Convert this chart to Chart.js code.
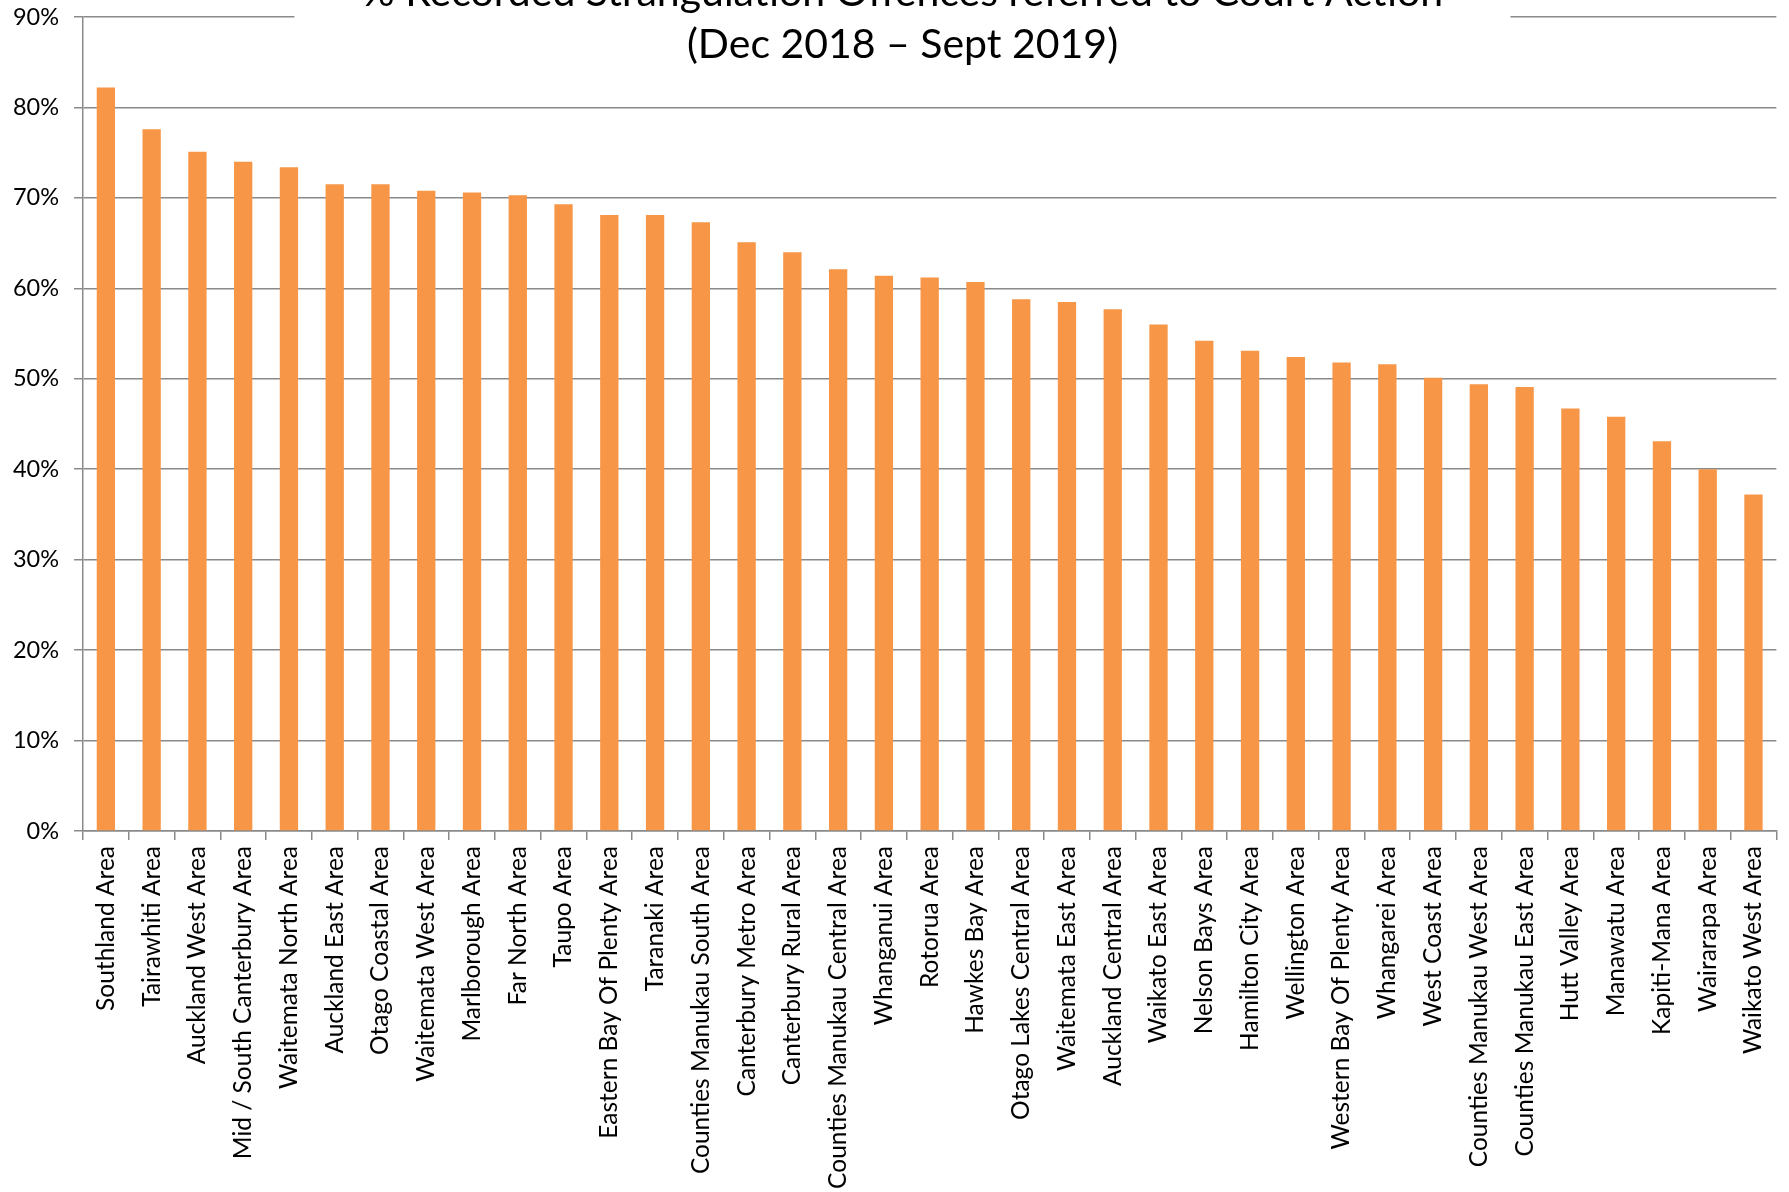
<!DOCTYPE html>
<html>
<head>
<meta charset="utf-8">
<title>% Recorded Strangulation Offences referred to Court Action</title>
<script src="https://cdn.jsdelivr.net/npm/chart.js@4/dist/chart.umd.min.js"></script>
<style>
    body { margin: 0; background: #fff; }
    #wrap { width: 1789px; height: 1192px; position: relative; }
</style>
</head>
<body>
<div id="wrap"><canvas id="diagram"></canvas></div>
<script>
// police areas, sorted by share referred to court
const areas = [
    "Southland Area", "Tairawhiti Area", "Auckland West Area", "Mid / South Canterbury Area",
    "Waitemata North Area", "Auckland East Area", "Otago Coastal Area", "Waitemata West Area",
    "Marlborough Area", "Far North Area", "Taupo Area", "Eastern Bay Of Plenty Area",
    "Taranaki Area", "Counties Manukau South Area", "Canterbury Metro Area", "Canterbury Rural Area",
    "Counties Manukau Central Area", "Whanganui Area", "Rotorua Area", "Hawkes Bay Area",
    "Otago Lakes Central Area", "Waitemata East Area", "Auckland Central Area", "Waikato East Area",
    "Nelson Bays Area", "Hamilton City Area", "Wellington Area", "Western Bay Of Plenty Area",
    "Whangarei Area", "West Coast Area", "Counties Manukau West Area", "Counties Manukau East Area",
    "Hutt Valley Area", "Manawatu Area", "Kapiti-Mana Area", "Wairarapa Area", "Waikato West Area"
];

// % of recorded strangulation offences referred to court action
const percentCourt = [
    82.2, 77.6, 75.1, 74.0, 73.4, 71.5, 71.5, 70.8,
    70.6, 70.3, 69.3, 68.1, 68.1, 67.3, 65.1, 64.0,
    62.1, 61.4, 61.2, 60.7, 58.8, 58.5, 57.7, 56.0,
    54.2, 53.1, 52.4, 51.8, 51.6, 50.1, 49.4, 49.1,
    46.7, 45.8, 43.1, 40.0, 37.2
];

const yTicks = [0, 10, 20, 30, 40, 50, 60, 70, 80, 90];

const titleLines = [
    "% Recorded Strangulation Offences referred to Court Action",
    "(Dec 2018 \u2013 Sept 2019)"
];

const axisGrey = "#8a8a8a";
const fontName = "Lato, 'Open Sans', sans-serif";

/**
 * title drawn over the top gridline, like the excel original
 */
const titlePlugin = {
    id: "boxTitle",
    afterDraw(chart) {
        const ctx = chart.ctx;
        const cx = chart.width / 2 + 8;
        ctx.save();
        ctx.fillStyle = "#fff";
        ctx.fillRect(cx - 608, 0, 1216, 70);
        ctx.fillStyle = "#000";
        ctx.font = "41px " + fontName;
        ctx.textAlign = "center";
        ctx.textBaseline = "alphabetic";
        ctx.fillText(titleLines[0], cx, 6);
        ctx.fillText(titleLines[1], cx, 58);
        ctx.restore();
    }
};

const canvas = document.getElementById("diagram");

new Chart(canvas, {
    type: "bar",
    data: {
        labels: areas,
        datasets: [{
            label: "% referred to court action",
            data: percentCourt,
            backgroundColor: "#F79646",
            borderWidth: 0,
            barPercentage: 0.4,
            categoryPercentage: 1.0
        }]
    },
    options: {
        responsive: true,
        maintainAspectRatio: false,
        animation: false,
        layout: { padding: { top: 17, right: 10, left: 0, bottom: 0 } },
        plugins: {
            legend: { display: false },
            tooltip: { enabled: false },
            title: { display: false }
        },
        scales: {
            x: {
                grid: {
                    display: true,
                    drawOnChartArea: false,
                    drawTicks: true,
                    tickLength: 9,
                    color: axisGrey,
                    lineWidth: 1.5
                },
                border: { color: axisGrey, width: 1.5 },
                ticks: {
                    autoSkip: false,
                    maxRotation: 90,
                    minRotation: 90,
                    padding: 6,
                    color: "#000",
                    font: { family: fontName, size: 24.5 }
                },
                afterFit(scale) { scale.height = 361; }
            },
            y: {
                min: 0,
                max: 90,
                afterBuildTicks(scale) {
                    scale.ticks = yTicks.map(v => ({ value: v }));
                },
                grid: {
                    color: axisGrey,
                    lineWidth: 1.5,
                    tickLength: 9
                },
                border: { color: axisGrey, width: 1.5 },
                ticks: {
                    padding: 15,
                    color: "#000",
                    font: { family: fontName, size: 23.5 },
                    callback: v => v + "%"
                },
                afterFit(scale) {
                    scale.width = 83;
                    scale.paddingTop = 0;
                    scale.paddingBottom = 0;
                }
            }
        }
    },
    plugins: [titlePlugin]
});
</script>
</body>
</html>
